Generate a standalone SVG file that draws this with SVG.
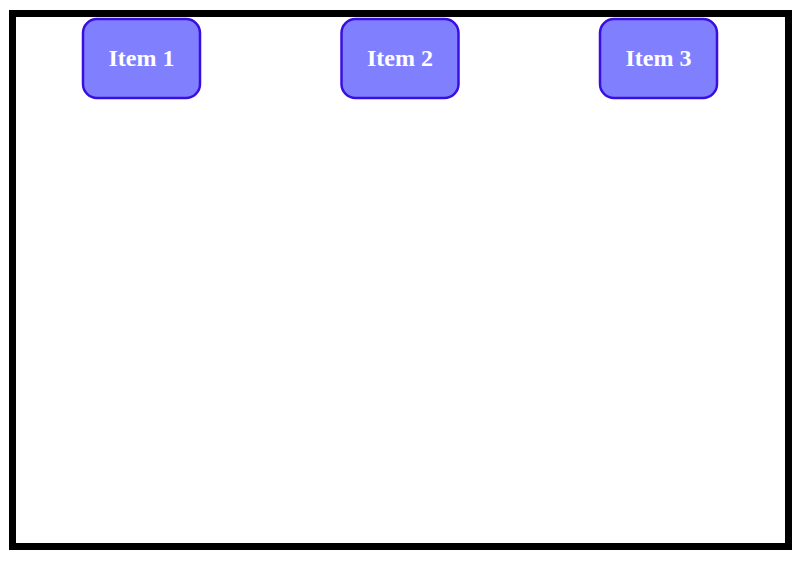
<svg xmlns="http://www.w3.org/2000/svg" width="806" height="562" viewBox="0 0 806 562">
<style>
.frame{fill:#fff;stroke:#000;stroke-width:7}
.box{fill:#8080ff;stroke:#3a0ee0;stroke-width:2.5}
.lbl{font-family:"Liberation Serif",serif;font-weight:bold;font-size:24px;fill:#fff;text-anchor:middle}
</style>
<rect width="806" height="562" fill="#fff"/>
<rect class="frame" x="12.5" y="13.5" width="776" height="533"/>
<g id="connectors"/>
<g id="item1"><rect class="box" x="83" y="19" width="117" height="79" rx="14"/><text class="lbl" x="141.5" y="66">Item 1</text></g>
<g id="item2"><rect class="box" x="341.5" y="19" width="117" height="79" rx="14"/><text class="lbl" x="400" y="66">Item 2</text></g>
<g id="item3"><rect class="box" x="600" y="19" width="117" height="79" rx="14"/><text class="lbl" x="658.5" y="66">Item 3</text></g>
</svg>
